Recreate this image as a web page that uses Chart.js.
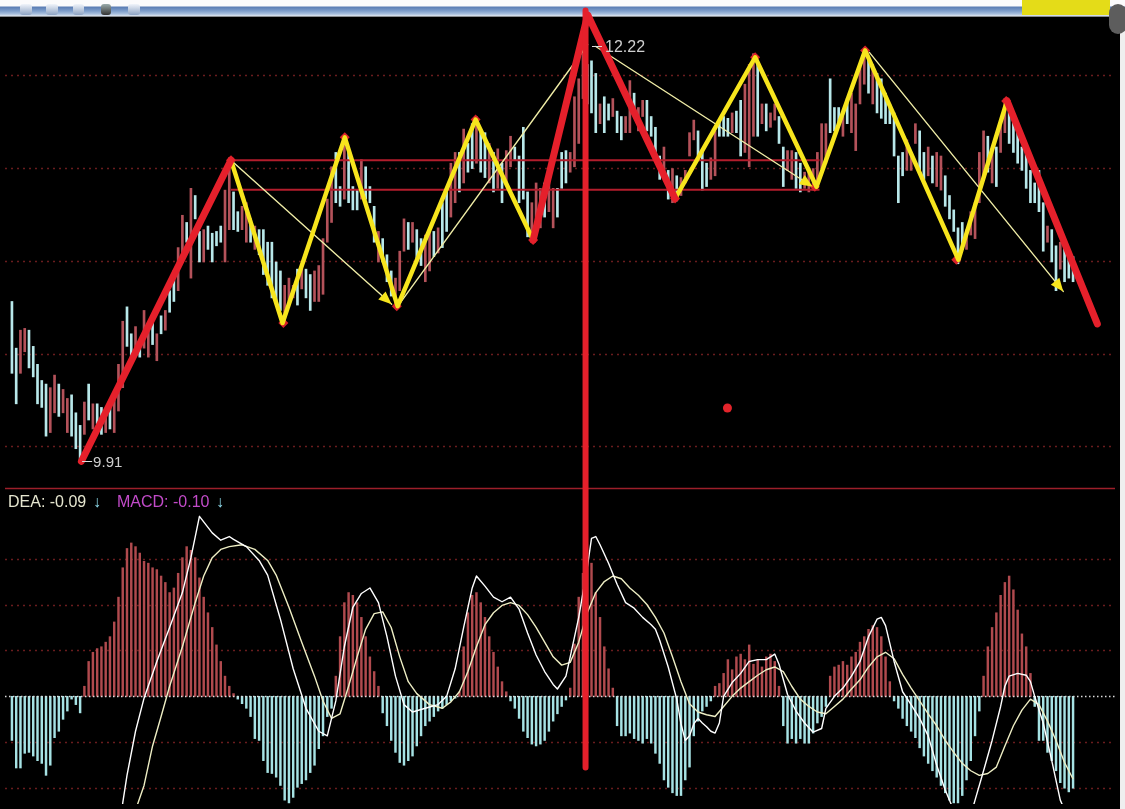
<!DOCTYPE html>
<html>
<head>
<meta charset="utf-8">
<script src="https://cdn.jsdelivr.net/npm/chart.js@4.4.1/dist/chart.umd.min.js"></script>
<style>
  body { margin: 0; width: 1125px; height: 809px; overflow: hidden; background: #efefef; position: relative;
         font-family: "Liberation Sans", Arial, sans-serif; }
  #toolbar { position: absolute; left: 0; top: 0; width: 1125px; height: 17px; z-index: 1;
             background: linear-gradient(#fbfbfc 0, #fbfbfc 6px, #5a7db4 7px, #7f9fcb 11px, #a9c0de 14px, #dfe6ef 16px, #333 17px); }
  .icon { position: absolute; top: 4px; height: 11px; border-radius: 3px; background: linear-gradient(#f0f4fa, #8ea4c4); }
  #yellowBtn { position: absolute; left: 1022px; top: 0; width: 88px; height: 15px; background: #e4dc18; z-index: 1; }
  #knob { position: absolute; left: 1109px; top: 4px; width: 18px; height: 30px; border-radius: 9px; background: #5d5d5d; z-index: 1; }
  #screen { position: absolute; left: 0; top: 17px; width: 1120px; height: 792px; background: #000; }
  #wrap { position: absolute; left: 0; top: 0; width: 1120px; height: 809px; z-index: 2; }
  .hdr { position: absolute; top: 493px; z-index: 3; font-size: 16px; line-height: 18px; white-space: nowrap; }
</style>
</head>
<body>
<div id="toolbar">
  <div class="icon" style="left:20px;width:12px"></div>
  <div class="icon" style="left:46px;width:12px"></div>
  <div class="icon" style="left:73px;width:11px"></div>
  <div class="icon" style="left:101px;width:10px;background:linear-gradient(#9aa,#333)"></div>
  <div class="icon" style="left:128px;width:12px"></div>
</div>
<div id="yellowBtn"></div>
<div id="knob"></div>
<div id="screen"></div>
<div id="wrap"><canvas id="kline" width="1120" height="809"></canvas></div>
<div class="hdr" style="left:8px;color:#e6e6cf">DEA: -0.09</div>
<div class="hdr" style="left:93px;color:#8fdcec">↓</div>
<div class="hdr" style="left:117px;color:#c24bc9">MACD: -0.10</div>
<div class="hdr" style="left:216px;color:#8fdcec">↓</div>
<script>
// 1 = up bar (red), 0 = down bar (cyan)
const upFlags = [
  0,0,1,1,0,0,0,0,0,1, 1,0,1,1,0,0,0,1,0,1, 0,0,1,0,1,1,1,0,0,1, 0,1,1,0,1,0,1,0,0,1,
  1,0,1,0,0,1,0,0,0,0, 1,1,0,0,1,1,0,1,0,0, 0,0,0,0,1,1,1,0,1,0, 0,1,1,1,1,1,0,0,1,0,
  0,0,1,0,0,0,1,0,0,0, 1,1,1,0,1,0,0,1,1,0, 1,0,0,1,1,0,1,0,0,1, 0,0,1,0,1,0,1,1,0,0,
  0,0,1,1,1,0,1,1,0,0, 0,1,1,1,1,0,0,0,1,0, 0,1,0,0,1,1,0,1,1,0, 0,0,0,1,0,1,0,1,1,1,
  1,0,0,0,1,1,0,0,0,1, 0,0,1,1,1,0,1,0,1,1, 0,0,1,1,0,0,1,1,1,1, 1,1,0,0,0,1,0,1,1,1,
  1,0,1,0,0,0,0,0,0,0, 1,1,1,0,0,1,0,1,1,0, 0,0,0,0,1,1,1,1,1,0, 1,0,1,1,0,0,0,0,0,0,
  0,0,0,1,0,0,1,0,0,0
];
const hi = [
  10.80,10.54,10.64,10.65,10.64,10.55,10.45,10.36,10.34,10.32, 10.39,10.34,10.31,10.26,10.28,10.18,10.11,10.24,10.34,10.23,
  10.23,10.21,10.17,10.25,10.25,10.45,10.69,10.77,10.62,10.66, 10.58,10.75,10.64,10.69,10.62,10.72,10.75,10.86,10.97,11.10,
  11.28,11.24,11.43,11.39,11.19,11.20,11.22,11.18,11.19,11.22, 11.42,11.60,11.41,11.30,11.33,11.35,11.26,11.22,11.20,11.20,
  11.13,11.13,11.02,10.97,10.89,10.93,10.89,10.98,11.00,10.98, 10.95,10.97,11.00,11.15,11.37,11.55,11.63,11.44,11.72,11.63,
  11.44,11.42,11.59,11.55,11.44,11.33,11.19,11.15,11.06,10.97, 10.93,11.08,11.26,11.24,11.24,11.20,11.15,11.17,11.19,11.19,
  11.21,11.35,11.41,11.57,11.63,11.63,11.76,11.68,11.79,11.83, 11.76,11.74,11.68,11.63,11.65,11.57,11.64,11.72,11.66,11.61,
  11.77,11.41,11.35,11.46,11.43,11.46,11.49,11.43,11.43,11.63, 11.64,11.63,11.94,12.04,12.22,12.12,12.14,12.07,11.90,11.94,
  11.90,11.93,11.86,11.83,11.83,12.03,11.96,11.88,11.92,11.92, 11.83,11.77,11.61,11.66,11.53,11.54,11.50,11.49,11.53,11.74,
  11.81,11.75,11.64,11.57,11.60,11.75,11.81,11.83,11.82,11.85, 11.86,11.92,12.01,12.12,12.18,12.12,11.90,11.90,11.85,11.90,
  11.83,11.66,11.64,11.64,11.63,11.57,11.52,11.52,11.54,11.63, 11.79,11.79,12.04,11.88,11.88,11.83,11.93,11.96,11.90,12.12,
  12.20,12.15,12.12,12.07,12.04,11.96,11.90,11.85,11.61,11.63, 11.70,11.63,11.79,11.75,11.63,11.66,11.61,11.63,11.61,11.50,
  11.39,11.31,11.21,11.24,11.20,11.30,11.35,11.63,11.75,11.72, 11.63,11.66,11.79,11.93,11.90,11.82,11.75,11.66,11.63,11.53,
  11.46,11.53,11.35,11.22,11.20,11.11,11.13,11.13,11.06,11.05
];
const lo = [
  10.40,10.23,10.40,10.52,10.43,10.38,10.23,10.21,10.05,10.07, 10.18,10.16,10.18,10.07,10.05,9.98,9.91,10.06,10.14,10.09,
  10.12,10.06,10.07,10.09,10.07,10.19,10.32,10.55,10.49,10.53, 10.49,10.54,10.49,10.56,10.47,10.62,10.64,10.74,10.80,10.86,
  11.02,11.13,10.93,11.26,11.02,11.02,11.09,11.02,11.11,11.13, 11.02,11.20,11.20,11.19,11.20,11.13,11.13,11.09,11.06,10.95,
  10.89,10.82,10.80,10.75,10.68,10.80,10.82,10.78,10.87,10.82, 10.75,10.80,10.80,10.84,11.13,11.24,11.35,11.33,11.37,11.35,
  11.31,11.31,11.37,11.37,11.35,11.13,11.02,11.02,10.91,10.83, 10.77,10.86,11.08,11.09,11.13,11.04,11.00,10.91,10.97,11.05,
  11.07,11.10,11.19,11.27,11.35,11.41,11.46,11.52,11.54,11.57, 11.52,11.49,11.46,11.41,11.43,11.35,11.46,11.55,11.59,11.35,
  11.37,11.16,11.13,11.19,11.21,11.27,11.30,11.21,11.27,11.43, 11.46,11.52,11.55,11.68,11.93,11.90,11.85,11.74,11.79,11.74,
  11.81,11.83,11.74,11.70,11.74,11.74,11.85,11.75,11.83,11.75, 11.72,11.63,11.48,11.53,11.37,11.35,11.36,11.39,11.46,11.61,
  11.70,11.61,11.42,11.44,11.48,11.50,11.72,11.72,11.72,11.74, 11.74,11.61,11.63,11.55,11.72,11.72,11.79,11.75,11.77,11.81,
  11.68,11.44,11.53,11.48,11.43,11.41,11.43,11.41,11.42,11.46, 11.54,11.57,11.74,11.75,11.79,11.72,11.79,11.74,11.64,11.90,
  12.01,11.96,11.90,11.85,11.82,11.79,11.79,11.61,11.35,11.50, 11.53,11.53,11.68,11.53,11.48,11.50,11.46,11.44,11.42,11.33,
  11.26,11.19,11.01,11.09,11.09,11.17,11.15,11.35,11.48,11.52, 11.46,11.44,11.63,11.74,11.68,11.63,11.57,11.53,11.43,11.35,
  11.35,11.30,11.08,11.13,11.02,10.86,10.98,10.91,10.93,10.91
];
// MACD histogram, one value per bar
const hist = [
  -0.048,-0.078,-0.078,-0.062,-0.061,-0.065,-0.070,-0.073,-0.086,-0.075, -0.045,-0.038,-0.025,-0.016,-0.003,-0.009,-0.018,0.011,0.038,0.048,
  0.052,0.054,0.059,0.065,0.081,0.108,0.140,0.161,0.167,0.163, 0.156,0.147,0.145,0.140,0.138,0.131,0.124,0.113,0.118,0.134,
  0.151,0.163,0.159,0.151,0.129,0.108,0.091,0.075,0.056,0.038, 0.022,0.011,0.003,-0.003,-0.008,-0.013,-0.022,-0.046,-0.048,-0.070,
  -0.083,-0.084,-0.088,-0.097,-0.113,-0.116,-0.110,-0.099,-0.095,-0.091, -0.083,-0.075,-0.057,-0.043,-0.022,-0.013,0.022,0.065,0.102,0.113,
  0.110,0.102,0.086,0.065,0.043,0.027,0.011,-0.018,-0.032,-0.048, -0.061,-0.072,-0.075,-0.070,-0.065,-0.054,-0.043,-0.032,-0.027,-0.022,
  -0.016,-0.013,-0.009,-0.005,-0.002,0.005,0.054,0.091,0.110,0.113, 0.102,0.086,0.065,0.048,0.032,0.016,0.005,-0.005,-0.013,-0.024,
  -0.038,-0.045,-0.052,-0.054,-0.052,-0.048,-0.038,-0.027,-0.019,-0.011, -0.004,0.009,0.057,0.108,0.134,0.151,0.145,0.113,0.086,0.054,
  0.030,0.009,-0.032,-0.043,-0.043,-0.040,-0.046,-0.048,-0.051,-0.046, -0.051,-0.062,-0.073,-0.091,-0.099,-0.105,-0.108,-0.108,-0.091,-0.077,
  -0.043,-0.027,-0.016,-0.011,-0.005,0.011,0.014,0.025,0.040,0.029, 0.043,0.046,0.040,0.056,0.035,0.040,0.032,0.043,0.046,0.038,
  0.011,-0.032,-0.051,-0.046,-0.051,-0.046,-0.051,-0.051,-0.040,-0.029, -0.022,-0.011,0.022,0.032,0.034,0.038,0.034,0.043,0.048,0.059,
  0.065,0.073,0.077,0.075,0.065,0.043,0.016,-0.005,-0.013,-0.024, -0.032,-0.038,-0.045,-0.056,-0.065,-0.073,-0.081,-0.088,-0.097,-0.105,
  -0.113,-0.116,-0.116,-0.108,-0.091,-0.070,-0.043,-0.016,0.022,0.054, 0.075,0.091,0.110,0.124,0.131,0.116,0.094,0.068,0.054,0.025,
  -0.011,-0.048,-0.048,-0.061,-0.070,-0.081,-0.094,-0.100,-0.104,-0.100
];
// [bar index, value]
const dif = [
  [25,-0.161],[26,-0.116],[27,-0.086],[29,-0.038],[31,-0.002],[34,0.038],[37,0.075],[40,0.113],[42,0.151],[44,0.196],
  [47,0.178],[49,0.170],[51,0.174],[52,0.171],[55,0.163],[58,0.148],[60,0.132],[63,0.084],[66,0.030],[69,-0.013],
  [72,-0.038],[74,-0.043],[76,-0.005],[78,0.054],[80,0.097],[82,0.112],[84,0.118],[86,0.102],[88,0.065],[90,0.022],
  [92,-0.009],[94,-0.017],[97,-0.013],[100,-0.009],[102,0.000],[104,0.030],[106,0.075],[108,0.118],[109,0.131],[111,0.120],
  [113,0.108],[115,0.103],[117,0.108],[119,0.095],[121,0.069],[123,0.045],[125,0.027],[127,0.013],[128,0.008],[130,0.022],
  [131,0.043],[133,0.086],[135,0.140],[136,0.172],[137,0.174],[138,0.165],[140,0.145],[142,0.122],[144,0.102],[146,0.096],
  [148,0.086],[150,0.078],[151,0.073],[152,0.061],[154,0.032],[156,-0.003],[157,-0.030],[158,-0.048],[159,-0.043],[160,-0.030],
  [161,-0.024],[162,-0.029],[163,-0.033],[164,-0.038],[165,-0.040],[166,-0.029],[167,0.000],[169,0.015],[171,0.025],[173,0.038],
  [175,0.040],[177,0.040],[179,0.046],[180,0.035],[182,0.002],[184,-0.016],[186,-0.029],[188,-0.039],[190,-0.035],[191,-0.013],
  [193,0.000],[195,0.009],[197,0.022],[199,0.038],[201,0.065],[203,0.084],[204,0.086],[205,0.077],[207,0.038],[209,0.005],
  [211,-0.009],[213,-0.024],[215,-0.043],[217,-0.075],[219,-0.102],[221,-0.124],[223,-0.140],[225,-0.129],[226,-0.113],[228,-0.081],
  [230,-0.048],[232,-0.011],[233,0.011],[234,0.022],[236,0.025],[238,0.023],[239,0.016],[240,0.000],[242,-0.029],[244,-0.070],
  [246,-0.113],[248,-0.134],[249,-0.140]
];
const dea = [
  [27,-0.161],[29,-0.124],[31,-0.097],[33,-0.054],[35,-0.022],[37,0.011],[40,0.054],[43,0.102],[45,0.131],[47,0.151],
  [49,0.160],[51,0.163],[54,0.165],[57,0.160],[60,0.148],[62,0.132],[65,0.097],[68,0.059],[71,0.022],[73,-0.005],
  [75,-0.024],[77,-0.019],[79,0.011],[81,0.043],[83,0.073],[85,0.090],[87,0.092],[89,0.075],[91,0.043],[93,0.016],
  [95,0.003],[98,-0.009],[101,-0.013],[103,-0.006],[105,0.005],[107,0.027],[109,0.054],[111,0.078],[113,0.091],[115,0.099],
  [117,0.102],[119,0.099],[121,0.089],[123,0.075],[125,0.059],[127,0.043],[129,0.034],[131,0.037],[133,0.059],[135,0.091],
  [137,0.113],[139,0.125],[141,0.131],[143,0.128],[145,0.118],[147,0.110],[149,0.100],[151,0.086],[153,0.069],[155,0.043],
  [157,0.016],[159,-0.008],[161,-0.017],[163,-0.020],[165,-0.022],[167,-0.011],[169,0.000],[171,0.009],[173,0.016],[175,0.023],
  [177,0.029],[179,0.032],[181,0.027],[183,0.011],[185,-0.003],[187,-0.011],[189,-0.017],[191,-0.019],[193,-0.011],[195,-0.003],
  [197,0.008],[199,0.018],[201,0.032],[203,0.043],[205,0.048],[207,0.041],[209,0.024],[211,0.009],[213,-0.005],[215,-0.019],
  [217,-0.032],[219,-0.048],[221,-0.061],[223,-0.073],[225,-0.081],[227,-0.086],[229,-0.084],[231,-0.077],[233,-0.054],[235,-0.032],
  [237,-0.015],[239,-0.003],[241,-0.009],[243,-0.027],[245,-0.048],[247,-0.072],[249,-0.090]
];

// hand-drawn annotations, [bar index, price]
const redLegs = [
  [[16.3, 9.91], [51.4, 11.587]],
  [[122.3, 11.142], [135.1, 12.396], [155.6, 11.373]],
  [[233.5, 11.917], [254.7, 10.675]]
];
const yellowLegs = [
  [[51.4, 11.587], [63.5, 10.68], [78.1, 11.714], [90.5, 10.774], [108.8, 11.813], [122.3, 11.142]],
  [[155.6, 11.373], [174.4, 12.16], [188.8, 11.439], [200.2, 12.198], [222.1, 11.032], [233.5, 11.917]]
];
const thinArrows = [
  [[51.4, 11.587], [89.1, 10.785]],
  [[90.9, 10.785], [135.1, 12.231]],
  [[137, 12.22], [187.9, 11.439]],
  [[201.2, 12.187], [246.7, 10.856]]
];
const arrowHeads = [true, false, true, true];
const pivots = [[51.4, 11.587], [63.7, 10.68], [78.1, 11.714], [90.3, 10.774], [108.8, 11.813], [122.3, 11.142],
                [155.6, 11.373], [174.4, 12.16], [188.4, 11.439], [200.2, 12.198], [221.6, 11.032], [233.3, 11.917]];
const levels = [11.587, 11.422];
const levelSpan = [51.4, 189.5];
const spike = [[134.6, 12.42], [134.6, 8.205]];
const redDot = [167.9, 10.207];
const lowMark = [16, 9.91, '9.91'];
const highMark = [134, 12.22, '12.22'];

const priceGrid = [9.993, 10.51, 11.027, 11.544, 12.06];
const macdGrid = [-0.10, -0.05, 0.05, 0.10, 0.15];
const macdTop = 0.227;

const UP = '#b4525a', DOWN = '#b8e8ea', HIST_UP = '#b04a4e', HIST_DN = '#a6e2e4';
const RED = '#e5202b', YELLOW = '#f7e51d';

const pts = arr => arr.map(p => ({ x: p[0], y: p[1] }));
function line(data, color, width, order, extra) {
  return Object.assign({
    type: 'line', data: pts(data), yAxisID: 'price', borderColor: color, borderWidth: width,
    pointRadius: 0, tension: 0, fill: false, borderCapStyle: 'round', borderJoinStyle: 'round', order: order
  }, extra || {});
}

const datasets = [
  {
    type: 'bar', id: 'candles', yAxisID: 'price', order: 20, grouped: false, barThickness: 2,
    data: hi.map((h, i) => ({ x: i, y: [lo[i], h] })),
    backgroundColor: upFlags.map(u => u ? UP : DOWN), borderWidth: 0
  },
  {
    type: 'bar', id: 'hist', yAxisID: 'macd', order: 19, grouped: false, barThickness: 1.8,
    data: hist.map((v, i) => ({ x: i, y: v })),
    backgroundColor: hist.map(v => v >= 0 ? HIST_UP : HIST_DN), borderWidth: 0
  },
  line(dea, '#eeeec4', 1.4, 15, { yAxisID: 'macd', borderCapStyle: 'butt' }),
  line(dif, '#ffffff', 1.4, 14, { yAxisID: 'macd', borderCapStyle: 'butt' })
];
levels.forEach(v => datasets.push(line([[levelSpan[0], v], [levelSpan[1], v]], '#b31d2c', 2, 12, { borderCapStyle: 'butt' })));
thinArrows.forEach((a, k) => datasets.push(line(a, '#efeca6', 1.4, 10, { arrow: arrowHeads[k] })));
datasets.push({
  type: 'line', showLine: false, data: pts(pivots), yAxisID: 'price', order: 9,
  pointStyle: 'rectRot', pointRadius: 5, pointBackgroundColor: '#d8222a', pointBorderWidth: 0
});
yellowLegs.forEach(l => datasets.push(line(l, YELLOW, 4.5, 8)));
redLegs.forEach(l => datasets.push(line(l, RED, 7, 7)));
datasets.push({
  type: 'line', showLine: false, data: pts([redDot]), yAxisID: 'price', order: 6,
  pointStyle: 'circle', pointRadius: 4.5, pointBackgroundColor: '#e3242b', pointBorderWidth: 0
});
datasets.push(line(spike, RED, 6, 5));

const overlay = {
  id: 'overlay',
  beforeDatasetsDraw(chart) {
    const { ctx, chartArea: a, scales: { price, macd } } = chart;
    ctx.save();
    ctx.lineWidth = 1.5;
    ctx.strokeStyle = '#6a1c1e';
    ctx.setLineDash([2, 4]);
    const hline = y => { ctx.beginPath(); ctx.moveTo(a.left, y); ctx.lineTo(a.right, y); ctx.stroke(); };
    priceGrid.forEach(v => hline(Math.round(price.getPixelForValue(v)) + 0.5));
    macdGrid.forEach(v => hline(Math.round(macd.getPixelForValue(v)) + 0.5));
    ctx.setLineDash([]);
    ctx.strokeStyle = '#9c1f2a';
    hline(Math.round(macd.getPixelForValue(macdTop)) + 0.5);
    ctx.restore();
  },
  afterDatasetDraw(chart, args) {
    if (chart.data.datasets[args.index].id !== 'hist') return;
    const { ctx, chartArea: a, scales: { macd } } = chart;
    ctx.save();
    ctx.strokeStyle = '#dcdcdc';
    ctx.lineWidth = 1.5;
    ctx.setLineDash([1.5, 2.5]);
    const y = Math.round(macd.getPixelForValue(0)) + 0.5;
    ctx.beginPath(); ctx.moveTo(a.left, y); ctx.lineTo(a.right, y); ctx.stroke();
    ctx.restore();
  },
  afterDatasetsDraw(chart) {
    const { ctx, scales: { x, price } } = chart;
    ctx.save();
    chart.data.datasets.forEach((ds, di) => {
      if (!ds.arrow) return;
      const el = chart.getDatasetMeta(di).data;
      const p1 = el[el.length - 2], p2 = el[el.length - 1];
      const ang = Math.atan2(p2.y - p1.y, p2.x - p1.x);
      ctx.fillStyle = YELLOW;
      ctx.beginPath();
      ctx.moveTo(p2.x, p2.y);
      ctx.lineTo(p2.x - 13 * Math.cos(ang) + 5.5 * Math.sin(ang), p2.y - 13 * Math.sin(ang) - 5.5 * Math.cos(ang));
      ctx.lineTo(p2.x - 13 * Math.cos(ang) - 5.5 * Math.sin(ang), p2.y - 13 * Math.sin(ang) + 5.5 * Math.cos(ang));
      ctx.closePath();
      ctx.fill();
    });
    ctx.fillStyle = '#cfcfcf';
    ctx.strokeStyle = '#dddddd';
    ctx.lineWidth = 1;
    ctx.textBaseline = 'middle';
    const lx = x.getPixelForValue(lowMark[0]), ly = Math.round(price.getPixelForValue(lowMark[1])) + 0.5;
    ctx.beginPath(); ctx.moveTo(lx + 2, ly); ctx.lineTo(lx + 12, ly); ctx.stroke();
    ctx.font = '15px "Liberation Sans", Arial, sans-serif';
    ctx.fillText(lowMark[2], lx + 13, ly + 1);
    const hx = x.getPixelForValue(highMark[0]), hy = Math.round(price.getPixelForValue(highMark[1])) + 0.5;
    ctx.beginPath(); ctx.moveTo(hx + 9, hy); ctx.lineTo(hx + 19, hy); ctx.stroke();
    ctx.font = '16px "Liberation Sans", Arial, sans-serif';
    ctx.fillText(highMark[2], hx + 22, hy + 1);
    ctx.restore();
  }
};

new Chart(document.getElementById('kline').getContext('2d'), {
  type: 'bar',
  data: { datasets: datasets },
  options: {
    responsive: false,
    animation: false,
    events: [],
    layout: { padding: 0 },
    plugins: { legend: { display: false }, tooltip: { enabled: false } },
    scales: {
      x: { type: 'linear', display: false, offset: false, bounds: 'data', min: -1.628, max: 258.84 },
      price: { type: 'linear', display: false, min: 8.0015, max: 12.451 },
      macd: { type: 'linear', display: false, min: -0.1172, max: 0.7527 }
    }
  },
  plugins: [overlay]
});
</script>
</body>
</html>
